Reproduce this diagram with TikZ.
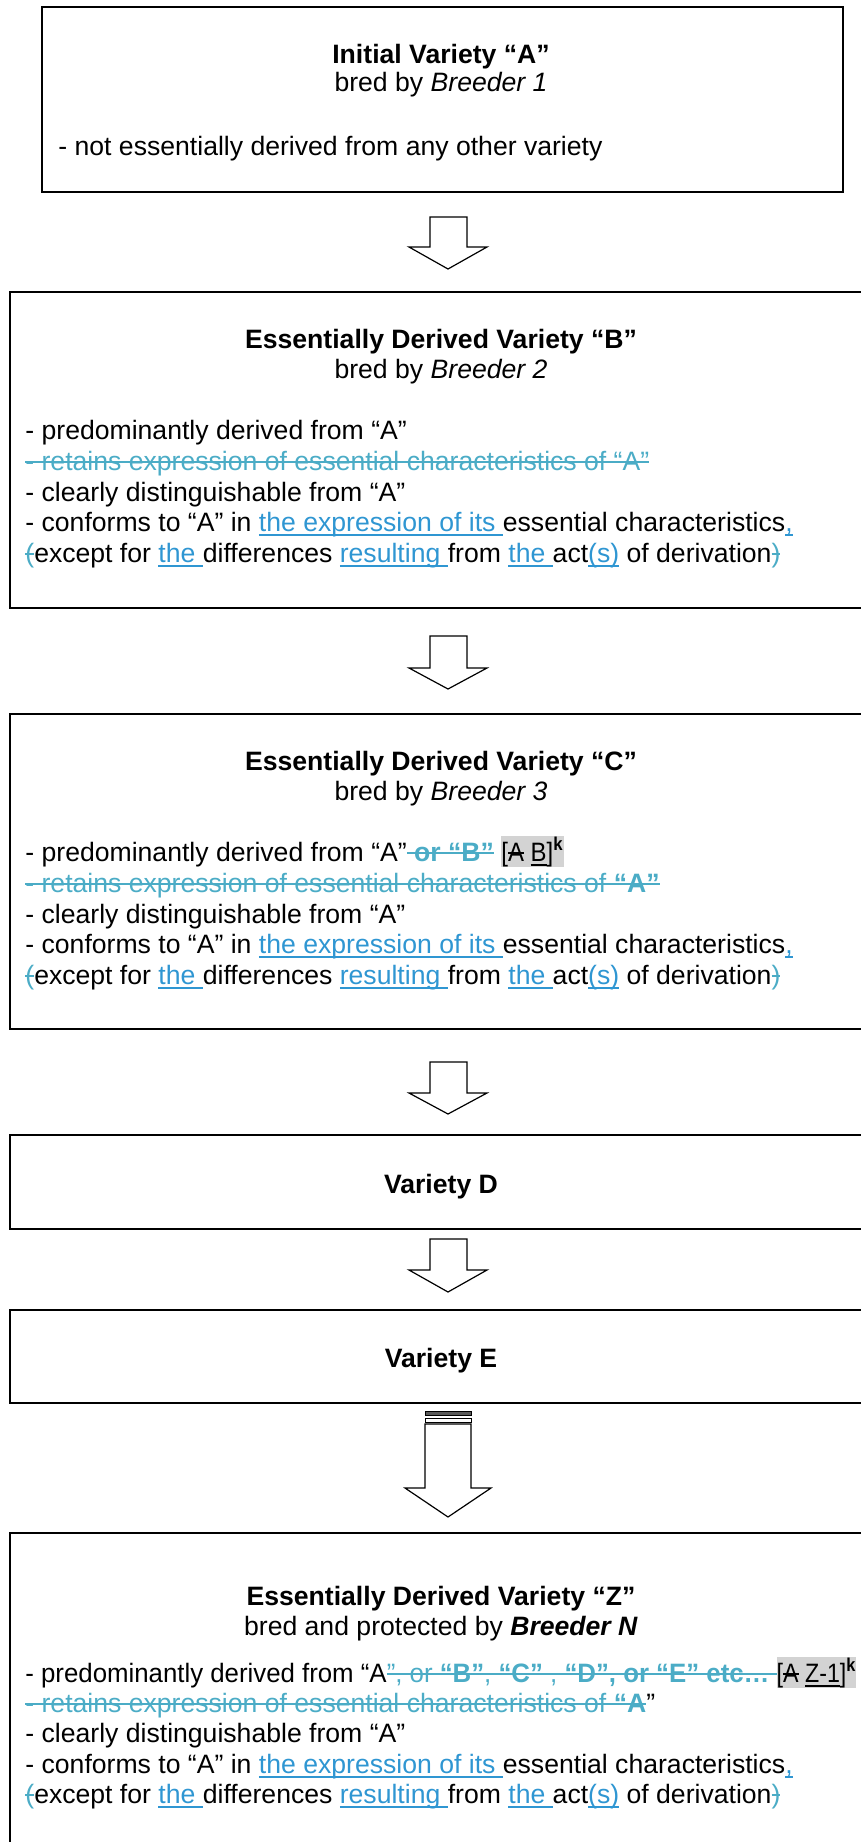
\documentclass[tikz,border=0pt]{standalone}
\usepackage{fontspec}
\setmainfont{Liberation Sans}
\usepackage{graphicx}
\usepackage{tikz}
\definecolor{delcol}{RGB}{75,172,198}
\definecolor{inscol}{RGB}{47,150,210}
\definecolor{hlgray}{RGB}{211,211,211}
\newcommand\fs{\fontsize{13.3pt}{15.4pt}\selectfont}
\newcommand\strk[1]{\setbox0=\hbox{#1}\rlap{\copy0}\rule[0.28em]{\wd0}{0.075em}}
\newcommand\uln[1]{\setbox0=\hbox{#1}\rlap{\copy0}\rule[-0.19em]{\wd0}{0.075em}}
\newcommand\del[1]{{\color{delcol}\strk{#1}}}
\newcommand\ins[1]{{\color{inscol}\uln{#1}}}
\newcommand\hl[1]{{\setlength{\fboxsep}{0pt}\colorbox{hlgray}{\rule[-0.23em]{0pt}{1.17em}\scalebox{0.9}[1]{#1}}}}
\newcommand\conformline{- conforms to “A” in \ins{the expression of its }essential characteristics\ins{,}}
\newcommand\exceptline{\del{(}except for \ins{the }differences \ins{resulting }from \ins{the }act\ins{(s)} of derivation\del{)}}

\begin{document}
\begin{tikzpicture}[x=0.5pt, y=-0.5pt,
box/.style={draw, line width=0.9pt, rectangle, inner sep=0pt},
txt/.style={anchor=base west, inner sep=0pt, font=\fs},
ttl/.style={anchor=base, inner sep=0pt, font=\fs\bfseries},
sub/.style={anchor=base, inner sep=0pt, font=\fs},
blockarr/.style={draw, fill=white, line width=0.6pt}]

\useasboundingbox (0,0) rectangle (861,1842);
\clip (0,0) rectangle (861,1842);

% variety A
\node [box, minimum width=400.5pt, minimum height=92.5pt] (boxA) at (442.5,99.5) {};
\node (tA) [ttl] at (441,63) {Initial Variety “A”};
\node (sA) [sub] at (441,91) {bred by \textit{Breeder 1}};
\node (bA1) [txt] at (58,155) {- not essentially derived from any other variety};

\draw [blockarr] (430,217) -- (467,217) -- (467,247) -- (487,247) -- (448,269) -- (409,247) -- (430,247) -- cycle;

% variety B
\node [box, minimum width=435pt, minimum height=158pt] (boxB) at (445,450) {};
\node (tB) [ttl] at (441,348) {Essentially Derived Variety “B”};
\node (sB) [sub] at (441,378) {bred by \textit{Breeder 2}};
\node (bB1) [txt] at (25,439) {- predominantly derived from “A”};
\node (bB2) [txt] at (25,470) {\del{- retains expression of essential characteristics of “A”}};
\node (bB3) [txt] at (25,501) {- clearly distinguishable from “A”};
\node (bB4) [txt] at (25,531) {\conformline};
\node (bB5) [txt] at (25,562) {\exceptline};

\draw [blockarr] (430,636) -- (467,636) -- (467,668) -- (487,668) -- (448,689) -- (409,668) -- (430,668) -- cycle;

% variety C
\node [box, minimum width=435pt, minimum height=157.5pt] (boxC) at (445,871.5) {};
\node (tC) [ttl] at (441,770) {Essentially Derived Variety “C”};
\node (sC) [sub] at (441,800) {bred by \textit{Breeder 3}};
\node (bC1) [txt] at (25,861) {- predominantly derived from “A”\del{ \textbf{or “B”}} \hl{[\strk{A} \uln{B}]\textsuperscript{\textbf{k}}}};
\node (bC2) [txt] at (25,892) {\del{- retains expression of essential characteristics of \textbf{“A”}}};
\node (bC3) [txt] at (25,923) {- clearly distinguishable from “A”};
\node (bC4) [txt] at (25,953) {\conformline};
\node (bC5) [txt] at (25,984) {\exceptline};

\draw [blockarr] (430,1062) -- (467,1062) -- (467,1093) -- (487,1093) -- (448,1114) -- (409,1093) -- (430,1093) -- cycle;

% varieties D and E
\node [box, minimum width=435pt, minimum height=47pt] (boxD) at (445,1182) {};
\node (tD) [ttl] at (441,1193) {Variety D};

\draw [blockarr] (430,1239) -- (467,1239) -- (467,1270) -- (487,1270) -- (448,1292) -- (409,1270) -- (430,1270) -- cycle;

\node [box, minimum width=435pt, minimum height=46.5pt] (boxE) at (445,1356.5) {};
\node (tE) [ttl] at (441,1367) {Variety E};

% long arrow with stripes
\filldraw [fill=black!65, draw=black, line width=0.4pt] (425,1411) rectangle (471,1415);
\draw [line width=0.4pt] (425,1418) rectangle (471,1422);
\draw [blockarr] (425,1424) -- (471,1424) -- (471,1488) -- (491,1488) -- (448,1517) -- (405,1488) -- (425,1488) -- cycle;

% variety Z
\node [box, minimum width=435pt, minimum height=163.5pt] (boxZ) at (445,1696.5) {};
\node (tZ) [ttl] at (441,1605) {Essentially Derived Variety “Z”};
\node (sZ) [sub] at (441,1635) {bred and protected by \textbf{\textit{Breeder N}}};
\node (bZ1) [txt] at (25,1682) {\scalebox{0.97}[1]{- predominantly derived from “A\del{”, or \textbf{“B”}, \textbf{“C”} , \textbf{“D”, or “E” etc… }}\hl{[\strk{A} \uln{Z-1}]\textsuperscript{\textbf{k}}}}};
\node (bZ2) [txt] at (25,1712) {\del{- retains expression of essential characteristics of \textbf{“A}}”};
\node (bZ3) [txt] at (25,1742) {- clearly distinguishable from “A”};
\node (bZ4) [txt] at (25,1773) {\conformline};
\node (bZ5) [txt] at (25,1803) {\exceptline};
\end{tikzpicture}
\end{document}
